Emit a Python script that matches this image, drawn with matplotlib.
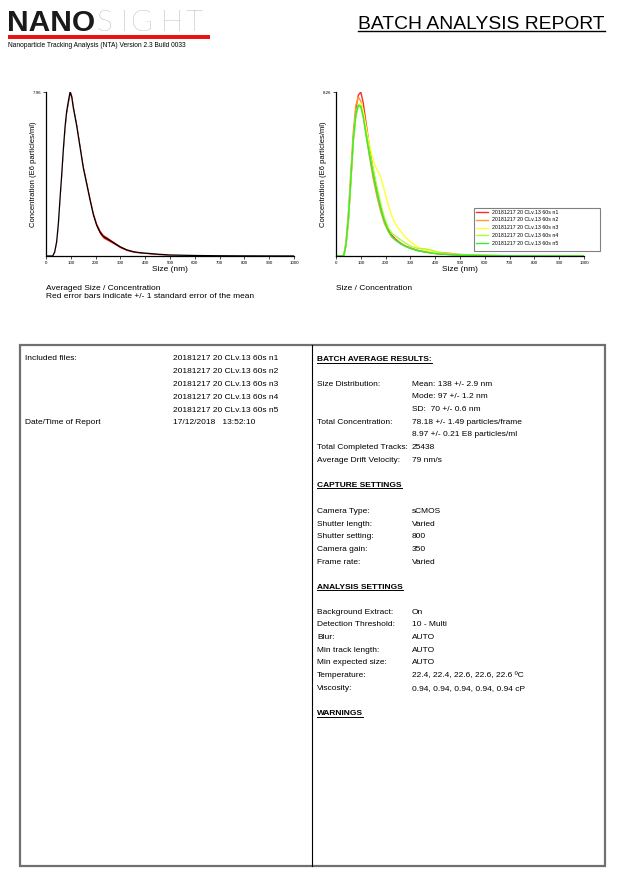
import matplotlib
matplotlib.use("Agg")
import matplotlib.pyplot as plt
from matplotlib.patches import Rectangle
from matplotlib.lines import Line2D
import numpy as np

plt.rcParams['font.family'] = ['Liberation Sans', 'DejaVu Sans']

W, H = 621, 880

# ---------------- data ----------------
avg_sizes = [0, 20, 27, 35, 43, 50, 56, 63, 70, 77, 83, 90, 97, 104, 110, 124, 137, 150,
             164, 177, 191, 204, 218, 231, 245, 272, 298, 325, 352, 380, 420, 460, 500,
             600, 700, 800, 900, 1000]
avg_conc = [0, 0, 0, 0.2, 0.7, 1.6, 2.7, 3.9, 5.2, 6.3, 7.0, 7.5, 7.96, 7.7, 7.2, 6.3, 5.3, 4.3,
            3.5, 2.75, 2.0, 1.5, 1.15, 0.95, 0.85, 0.65, 0.45, 0.3, 0.21, 0.16, 0.12, 0.08, 0.05,
            0.025, 0.012, 0.006, 0.003, 0]
avg_sem = [0, 0, 0, 0.02, 0.04, 0.05, 0.06, 0.07, 0.08, 0.09, 0.1, 0.1, 0.1, 0.1, 0.1, 0.1, 0.1, 0.1,
           0.1, 0.1, 0.1, 0.1, 0.1, 0.09, 0.08, 0.06, 0.05, 0.04, 0.03, 0.02, 0.02, 0.02, 0.01,
           0.01, 0.01, 0.0, 0.0, 0]
avg_ymax = 7.96

run_sizes = [0, 25, 32, 40, 50, 60, 70, 80, 90, 100, 110, 120, 135, 150, 165, 180, 195, 210,
             225, 240, 260, 280, 300, 330, 360, 390, 420, 450, 500, 600, 700, 800, 1000]
run_n1 = [0, 0, 0.05, 0.5, 1.8, 3.8, 5.9, 7.4, 8.1, 8.26, 7.7, 6.8, 5.5, 4.3, 3.3, 2.5, 1.85, 1.35,
          1.05, 0.85, 0.65, 0.5, 0.4, 0.28, 0.2, 0.14, 0.1, 0.08, 0.05, 0.025, 0.012, 0.006, 0]
run_n2 = [0, 0, 0.08, 0.7, 2.2, 4.3, 6.3, 7.6, 8.0, 7.8, 7.1, 6.2, 5.0, 3.9, 3.0, 2.25, 1.65, 1.25,
          0.95, 0.8, 0.62, 0.5, 0.4, 0.28, 0.22, 0.2, 0.18, 0.15, 0.08, 0.03, 0.012, 0.006, 0]
run_n3 = [0, 0, 0.05, 0.5, 1.8, 3.8, 5.8, 7.1, 7.6, 7.7, 7.3, 6.6, 5.6, 4.8, 4.35, 4.0, 3.3, 2.6,
          2.0, 1.6, 1.25, 0.95, 0.72, 0.45, 0.3, 0.2, 0.14, 0.1, 0.06, 0.025, 0.012, 0.006, 0]
run_n4 = [0, 0, 0.05, 0.55, 1.9, 3.9, 5.8, 7.0, 7.55, 7.5, 7.0, 6.3, 5.3, 4.4, 3.5, 2.65, 1.95, 1.45,
          1.15, 1.0, 0.82, 0.65, 0.5, 0.38, 0.36, 0.28, 0.16, 0.1, 0.06, 0.025, 0.012, 0.006, 0]
run_n5 = [0, 0, 0.05, 0.55, 1.9, 3.9, 5.9, 7.1, 7.6, 7.55, 7.0, 6.2, 5.1, 4.1, 3.2, 2.4, 1.75, 1.28,
          0.98, 0.8, 0.62, 0.48, 0.38, 0.26, 0.2, 0.14, 0.1, 0.08, 0.05, 0.025, 0.012, 0.006, 0]
run_labels = ["20181217 20 CLv.13 60s n1", "20181217 20 CLv.13 60s n2", "20181217 20 CLv.13 60s n3",
              "20181217 20 CLv.13 60s n4", "20181217 20 CLv.13 60s n5"]
run_colors = ["#ff2a2a", "#ff9a33", "#ffff33", "#a6ff33", "#33ee33"]
run_ymax = 8.26

x_ticks = [0, 100, 200, 300, 400, 500, 600, 700, 800, 900, 1000]

included_files = run_labels
report_datetime = "17/12/2018   13:52:10"

batch_rows = [
    ("Size Distribution:", "Mean: 138 +/- 2.9 nm"),
    ("", "Mode: 97 +/- 1.2 nm"),
    ("", "SD:  70 +/- 0.6 nm"),
    ("Total Concentration:", "78.18 +/- 1.49 particles/frame"),
    ("", "8.97 +/- 0.21 E8 particles/ml"),
    ("Total Completed Tracks:", "25438"),
    ("Average Drift Velocity:", "79 nm/s"),
]
capture_rows = [
    ("Camera Type:", "sCMOS"),
    ("Shutter length:", "Varied"),
    ("Shutter setting:", "800"),
    ("Camera gain:", "350"),
    ("Frame rate:", "Varied"),
]
analysis_rows = [
    ("Background Extract:", "On"),
    ("Detection Threshold:", "10 - Multi"),
    ("Blur:", "AUTO"),
    ("Min track length:", "AUTO"),
    ("Min expected size:", "AUTO"),
    ("Temperature:", "22.4, 22.4, 22.6, 22.6, 22.6 \u00baC"),
    ("Viscosity:", "0.94, 0.94, 0.94, 0.94, 0.94 cP"),
]

# ---------------- figure ----------------
fig = plt.figure(figsize=(W / 100, H / 100), dpi=100)


def fx(x):
    return x / W


def fy(y):
    return 1 - y / H


def T(x, y, s, size=6, **kw):
    # y = visual centre of capitals in pixels
    cap = size * 100 / 72 * 0.716
    return fig.text(fx(x), fy(y + cap / 2), s, fontsize=size, va='baseline', ha='left', **kw)


def ax_rect(left, top, right, bottom):
    return [fx(left), fy(bottom), (right - left) / W, (bottom - top) / H]


def style_axes(ax, ymax, label):
    ax.set_xlim(0, 1000)
    ax.set_ylim(0, ymax)
    ax.spines['top'].set_visible(False)
    ax.spines['right'].set_visible(False)
    ax.spines['left'].set_linewidth(0.9)
    ax.spines['bottom'].set_linewidth(0.9)
    ax.set_xticks(x_ticks)
    ax.set_xticklabels([str(t) for t in x_ticks], fontsize=3.2)
    ax.set_yticks([ymax])
    ax.set_yticklabels([label], fontsize=3.2)
    ax.tick_params(axis='both', length=2, width=0.5, pad=1.5)
    ax.set_xlabel("Size (nm)", fontsize=6, labelpad=1)
    ax.set_ylabel("Concentration (E6 particles/ml)", fontsize=5.5)
    ax.yaxis.set_label_coords(-0.037, 0.5)


# left chart: averaged
ax1 = fig.add_axes(ax_rect(46, 92, 294, 256))
a = np.array(avg_conc)
e = np.array(avg_sem)
ax1.fill_between(avg_sizes, a - e, a + e, color='#ff0000', lw=0, alpha=0.9)
ax1.plot(avg_sizes, avg_conc, color='black', lw=0.9)
style_axes(ax1, avg_ymax, "7.96")

# right chart: each run
ax2 = fig.add_axes(ax_rect(336, 92, 584, 256))
series = [run_n1, run_n2, run_n3, run_n4, run_n5]
handles = []
for vals, col, lab in zip(series, run_colors, run_labels):
    h, = ax2.plot(run_sizes, vals, color=col, lw=1.0, label=lab)
    handles.append(h)
style_axes(ax2, run_ymax, "8.26")

# legend box
fig.add_artist(Rectangle((fx(474), fy(251)), (600 - 474) / W, (251 - 208) / H,
                         transform=fig.transFigure, facecolor='white', edgecolor='#808080', lw=0.8))
fig.legend(handles, run_labels, loc='upper left', bbox_to_anchor=(fx(474), fy(208)),
           frameon=False, fontsize=3.8, handlelength=2.3, handletextpad=0.8,
           labelspacing=0.55, borderpad=0.3, borderaxespad=0)

# captions under charts
T(46, 287, "Averaged Size / Concentration", size=6)
T(46, 295, "Red error bars indicate +/- 1 standard error of the mean", size=6)
T(336, 287, "Size / Concentration", size=6)

# ---------------- header ----------------
T(7, 20, "NANO", size=21.5, fontweight='bold', color='#1a1a1a')
sight_letters = ["S", "I", "G", "H", "T"]
sight_x = [96, 121, 131, 160, 186]
for ch, xx in zip(sight_letters, sight_x):
    T(xx, 20, ch, size=21.5, family=['Lato', 'Liberation Sans'], fontweight='light', color='#999999')
fig.add_artist(Rectangle((fx(8), fy(39)), (210 - 8) / W, 3.5 / H, transform=fig.transFigure,
                         facecolor='#ee1111', edgecolor='none'))
T(8, 45, "Nanoparticle Tracking Analysis (NTA) Version 2.3 Build 0033", size=4.8)
title = T(358, 22, "BATCH ANALYSIS REPORT", size=13.9)

# ---------------- table ----------------
fig.add_artist(Rectangle((fx(20), fy(866)), (605 - 20) / W, (866 - 345) / H,
                         transform=fig.transFigure, facecolor='none', edgecolor='#707070', lw=1.6))
fig.add_artist(Line2D([fx(312), fx(312)], [fy(345), fy(866)], transform=fig.transFigure,
                      color='black', lw=0.8))

T(25, 357.3, "Included files:")
for i, f in enumerate(included_files):
    T(173, 357.3 + i * 12.9, f)
T(25, 421.5, "Date/Time of Report")
T(173, 421.5, report_datetime)

underlined = []
underlined.append(T(317, 358.3, "BATCH AVERAGE RESULTS:", fontweight='bold'))
for i, (lab, val) in enumerate(batch_rows):
    y = 382.7 + i * 12.67
    if lab:
        T(317, y, lab)
    T(412, y, val)

underlined.append(T(317, 484, "CAPTURE SETTINGS", fontweight='bold'))
for i, (lab, val) in enumerate(capture_rows):
    y = 510 + i * 12.67
    T(317, y, lab)
    T(412, y, val)

underlined.append(T(317, 586, "ANALYSIS SETTINGS", fontweight='bold'))
for i, (lab, val) in enumerate(analysis_rows):
    y = 610.7 + i * 12.67
    T(317, y, lab)
    T(412, y, val)

underlined.append(T(317, 712.3, "WARNINGS", fontweight='bold'))

# underlines
fig.canvas.draw()
r = fig.canvas.get_renderer()
for t, off, lw in [(title, 2.5, 1.0)] + [(u, 1.5, 0.7) for u in underlined]:
    bb = t.get_window_extent(renderer=r)
    x0, x1 = bb.x0 / W, bb.x1 / W
    yb = t.get_position()[1] - off / H
    fig.add_artist(Line2D([x0, x1], [yb, yb], transform=fig.transFigure, color='black', lw=lw))

fig.savefig("out.png", dpi=100)
